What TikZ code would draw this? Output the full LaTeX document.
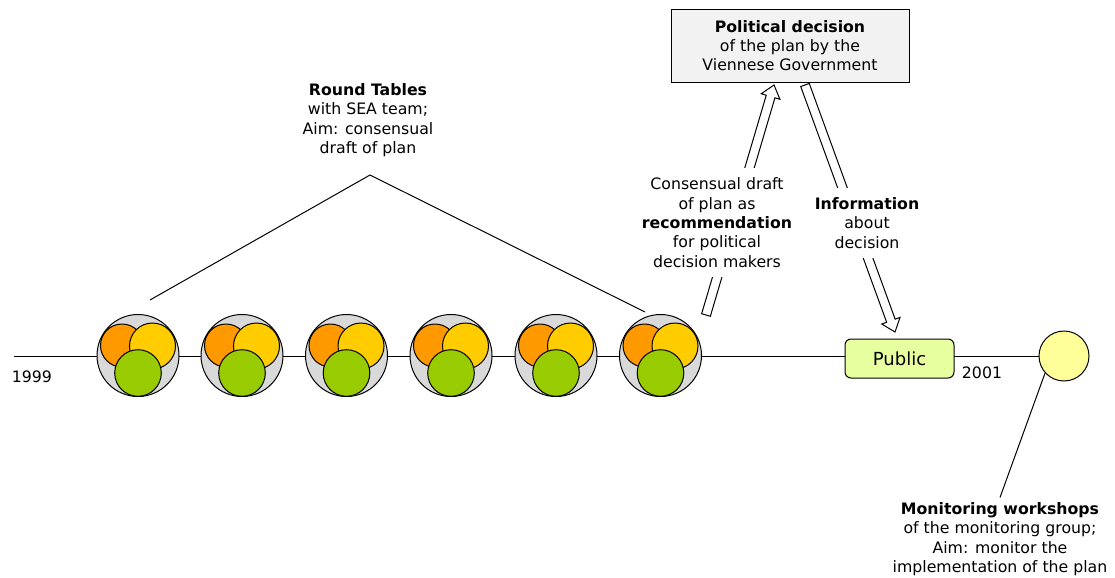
\documentclass[tikz,border=0pt]{standalone}
\usepackage{fontspec}
\setmainfont{DejaVu Sans}
\usetikzlibrary{calc}

\definecolor{rtgrey}{RGB}{217,217,217}
\definecolor{rtorange}{RGB}{255,153,0}
\definecolor{rtyellow}{RGB}{255,204,0}
\definecolor{rtgreen}{RGB}{153,204,0}
\definecolor{pubgreen}{RGB}{232,255,160}
\definecolor{monyellow}{RGB}{255,255,153}
\definecolor{boxgrey}{RGB}{242,242,242}

% hollow block arrow from #1 (tail) to #2 (tip)
\newcommand\hollowarrow[2]{%
  \coordinate (ha base) at ($(#2)!9pt!(#1)$);
  \draw[fill=white, line join=miter]
    ($(#1)!3.4pt!90:(#2)$) -- ($(ha base)!3.4pt!90:(#2)$)
    -- ($(ha base)!7.3pt!90:(#2)$) -- (#2)
    -- ($(ha base)!7.3pt!-90:(#2)$) -- ($(ha base)!3.4pt!-90:(#2)$)
    -- ($(#1)!3.4pt!-90:(#2)$) -- cycle;
}

\begin{document}
\begin{tikzpicture}[x=0.75pt, y=-0.75pt, line width=0.75pt,
  every node/.style={font=\fontsize{11.8}{14.5}\selectfont, align=center},
  table disc/.style={circle, draw, fill=rtgrey, minimum size=61.5pt, inner sep=0pt},
  label text/.style={fill=white, inner xsep=2pt, inner ysep=7pt}]
\useasboundingbox (0,0) rectangle (1115,578);

% time line
\coordinate (tl start) at (14,356);
\node[circle, draw, fill=monyellow, minimum size=37.5pt, inner sep=0pt] (mon) at (1064,356) {};
\draw (tl start) -- (mon.west);

% round tables
\foreach \i/\x in {1/138, 2/242, 3/346.5, 4/451, 5/556, 6/660.5} {
  \node[table disc] (t\i) at (\x,355.5) {};
  \draw[fill=rtorange] ($(t\i)+(-16,-10)$) circle[radius=21.5];
  \draw[fill=rtyellow] ($(t\i)+(14.5,-9.5)$) circle[radius=23];
  \draw[fill=rtgreen]  ($(t\i)+(0,17.5)$) circle[radius=23.3];
}

\node (rt) at (368,120) {\textbf{Round Tables}\\with SEA team;\\Aim: consensual\\draft of plan};
\coordinate (apex) at (370,175);
\coordinate (rt left) at (150,300);
\coordinate (rt right) at (645,312);
\draw (rt left) -- (apex) -- (rt right);

% public and decision
\node[draw, rounded corners=4.5pt, fill=pubgreen, minimum width=81.75pt,
      minimum height=29.25pt, font=\fontsize{13.5}{16}\selectfont] (public) at (899.5,358.5) {Public};
\node[draw, fill=boxgrey, minimum width=178.5pt, minimum height=54.75pt] (gov) at (790,45.5)
  {\textbf{Political decision}\\of the plan by the\\Viennese Government};

\coordinate (up tail) at (706,315);
\coordinate (up tip) at (774,85);
\coordinate (down tail) at (805,85);
\coordinate (down tip) at (895,332);
\hollowarrow{up tail}{up tip}
\hollowarrow{down tail}{down tip}

\node[label text] (consensus) at (717,222.5)
  {Consensual draft\\of plan as\\\textbf{recommendation}\\for political\\decision makers};
\node[label text] (info) at (867,223) {\textbf{Information}\\about\\decision};

% years
\node (y1999) at (32,377) {1999};
\node (y2001) at (982,373) {2001};

% monitoring
\node (mw) at (1000,539) {\textbf{Monitoring workshops}\\of the monitoring group;\\Aim: monitor the\\implementation of the plan};
\draw (mon.222) -- (mw.north);
\end{tikzpicture}
\end{document}
